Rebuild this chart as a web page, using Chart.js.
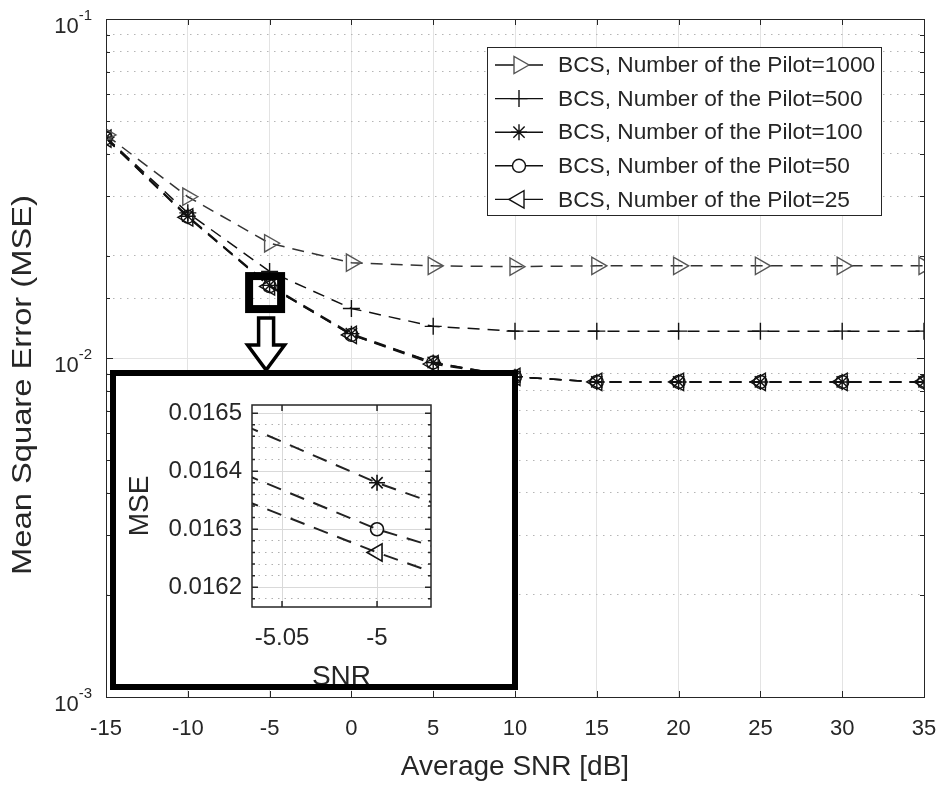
<!DOCTYPE html>
<html>
<head>
<meta charset="utf-8">
<script src="https://cdn.jsdelivr.net/npm/chart.js@4.4.1/dist/chart.umd.min.js"></script>
<style>
  body { margin: 0; background: #fff; }
  #wrap { position: relative; width: 941px; height: 785px; }
  canvas { display: block; }
  #inset { position: absolute; left: 110px; top: 370px; width: 396px; height: 308px;
           border: 6px solid #000; overflow: hidden; background: #fff; }
</style>
</head>
<body>
<div id="wrap">
  <canvas id="mainChart" width="941" height="785"></canvas>
  <div id="inset"><canvas id="insetChart" width="396" height="330"></canvas></div>
</div>
<script>
// main plot data
const snr = [-15, -10, -5, 0, 5, 10, 15, 20, 25, 30, 35];
const mse1000 = [0.0455, 0.0299, 0.0218, 0.0191, 0.0187, 0.0186, 0.0187, 0.0187, 0.0187, 0.0187, 0.0187];
const mse500  = [0.0448, 0.0268, 0.0180, 0.0140, 0.0124, 0.0120, 0.0120, 0.0120, 0.0120, 0.0120, 0.0120];
const mse100  = [0.0447, 0.0262, 0.01638, 0.0118, 0.0097, 0.0088, 0.0085, 0.0085, 0.0085, 0.0085, 0.0085];
const mse50   = [0.0445, 0.0261, 0.01630, 0.0117, 0.0097, 0.0088, 0.0085, 0.0085, 0.0085, 0.0085, 0.0085];
const mse25   = [0.0444, 0.0260, 0.01626, 0.0117, 0.0096, 0.0088, 0.0085, 0.0085, 0.0085, 0.0085, 0.0085];
const seriesNames = [
  'BCS, Number of the Pilot=1000',
  'BCS, Number of the Pilot=500',
  'BCS, Number of the Pilot=100',
  'BCS, Number of the Pilot=50',
  'BCS, Number of the Pilot=25'
];
const yDecades = [0.1, 0.01, 0.001];
const yExponents = ['-1', '-2', '-3'];
const yTitle = 'Mean Square Error (MSE)';

// zoomed inset data
const insetSnr = [-5.07, -5, -4.97];
const inset100 = [0.016479, 0.01638, 0.016345];
const inset50  = [0.016395, 0.01630, 0.01627];
const inset25  = [0.01635, 0.01626, 0.016225];
const insetXRange = [-5.0658, -4.9716];
const insetYRange = [0.016166, 0.016514];
const insetXTicks = [-5.05, -5];
const insetYTicks = [0.01618, 0.0162, 0.01622, 0.01624, 0.01626, 0.01628, 0.0163, 0.01632,
                     0.01634, 0.01636, 0.01638, 0.0164, 0.01642, 0.01644, 0.01646, 0.01648, 0.0165];

const FONT = "'Liberation Sans', Arial, sans-serif";
const INK = '#262626';

const markers = [
  {style: 'triangle', rot: 90, r: 10, color: '#555'},
  {style: 'cross', rot: 0, r: 8.5, color: '#111'},
  {style: 'star', rot: 0, r: 8, color: '#111'},
  {style: 'circle', rot: 0, r: 6.5, color: '#111'},
  {style: 'triangle', rot: -90, r: 10, color: '#111'}
];

function isDecade(v) {
  const l = Math.log10(v);
  return Math.abs(l - Math.round(l)) < 1e-6;
}

function makeSet(i, vals) {
  const m = markers[i];
  return {
    label: seriesNames[i],
    data: snr.map((x, k) => ({x: x, y: vals[k]})),
    borderColor: i === 0 ? '#333' : '#111',
    borderWidth: 1.5,
    borderDash: [12, 8],
    pointStyle: m.style,
    pointRotation: m.rot,
    pointRadius: m.r,
    pointBorderColor: m.color,
    pointBackgroundColor: 'rgba(255,255,255,0)',
    pointBorderWidth: 1.4,
    fill: false,
    tension: 0
  };
}

function drawMarker(ctx, m, x, y, fill) {
  ctx.save();
  ctx.setLineDash([]);
  ctx.strokeStyle = m.color;
  ctx.fillStyle = fill;
  ctx.lineWidth = 1.4;
  Chart.helpers.drawPoint(ctx, {pointStyle: m.style, rotation: m.rot, radius: m.r, borderWidth: 1.4}, x, y);
  ctx.restore();
}

function noEdgePadding(s) {
  s.paddingLeft = 0; s.paddingRight = 0; s.paddingTop = 0; s.paddingBottom = 0;
}

const mainDecor = {
  id: 'mainDecor',
  afterDraw(chart) {
    const ctx = chart.ctx, a = chart.chartArea;
    const xs = chart.scales.x, ys = chart.scales.y;
    ctx.save();
    // axes box
    ctx.strokeStyle = INK;
    ctx.lineWidth = 1;
    ctx.strokeRect(Math.round(a.left) + 0.5, Math.round(a.top) + 0.5, Math.round(a.right - a.left), Math.round(a.bottom - a.top));
    // inward ticks
    ctx.beginPath();
    xs.ticks.forEach(t => {
      const px = Math.round(xs.getPixelForValue(t.value)) + 0.5;
      ctx.moveTo(px, a.bottom); ctx.lineTo(px, a.bottom - 6);
      ctx.moveTo(px, a.top); ctx.lineTo(px, a.top + 6);
    });
    ys.ticks.forEach(t => {
      const py = Math.round(ys.getPixelForValue(t.value)) + 0.5;
      const len = isDecade(t.value) ? 7 : 4;
      ctx.moveTo(a.left, py); ctx.lineTo(a.left + len, py);
      ctx.moveTo(a.right, py); ctx.lineTo(a.right - len, py);
    });
    ctx.stroke();
    // y labels 10^n
    ctx.fillStyle = INK;
    ctx.textBaseline = 'middle';
    yDecades.forEach((v, i) => {
      const py = ys.getPixelForValue(v);
      ctx.font = '15px ' + FONT;
      const supW = ctx.measureText(yExponents[i]).width;
      const x0 = 92 - supW;
      ctx.textAlign = 'left';
      ctx.fillText(yExponents[i], x0, py - 3);
      ctx.font = '22px ' + FONT;
      ctx.textAlign = 'right';
      ctx.fillText('10', x0, py + 8);
    });
    // y axis title (stretched along its length like the source figure)
    ctx.save();
    ctx.translate(23, 385);
    ctx.rotate(-Math.PI / 2);
    ctx.font = '28px ' + FONT;
    const tw = ctx.measureText(yTitle).width;
    ctx.scale(380 / tw, 1);
    ctx.textAlign = 'center';
    ctx.textBaseline = 'middle';
    ctx.fillStyle = INK;
    ctx.fillText(yTitle, 0, 0);
    ctx.restore();
    // legend
    const lg = {x: 487, y: 47, w: 394, h: 168};
    ctx.fillStyle = '#fff';
    ctx.fillRect(lg.x, lg.y, lg.w, lg.h);
    ctx.strokeStyle = INK;
    ctx.lineWidth = 1;
    ctx.strokeRect(lg.x + 0.5, lg.y + 0.5, lg.w, lg.h);
    seriesNames.forEach((name, i) => {
      const cy = 65 + i * 33.6;
      ctx.strokeStyle = '#111';
      ctx.lineWidth = 1.4;
      ctx.beginPath();
      ctx.moveTo(495, cy); ctx.lineTo(543, cy);
      ctx.stroke();
      drawMarker(ctx, markers[i], 519, cy, '#fff');
      ctx.fillStyle = INK;
      ctx.font = '22.7px ' + FONT;
      ctx.textAlign = 'left';
      ctx.textBaseline = 'middle';
      ctx.fillText(name, 558, cy + 1);
    });
    // zoom marker square and arrow
    const zx = xs.getPixelForValue(-5) - 4.5;
    const zy = ys.getPixelForValue(0.0163) + 6.5;
    ctx.strokeStyle = '#000';
    ctx.lineWidth = 8;
    ctx.strokeRect(zx - 16, zy - 16.5, 32, 33);
    const ax = zx + 1, top = zy + 25.5;
    ctx.beginPath();
    ctx.moveTo(ax - 7.5, top);
    ctx.lineTo(ax + 7.5, top);
    ctx.lineTo(ax + 7.5, top + 27);
    ctx.lineTo(ax + 18.5, top + 27);
    ctx.lineTo(ax, top + 52);
    ctx.lineTo(ax - 18.5, top + 27);
    ctx.lineTo(ax - 7.5, top + 27);
    ctx.closePath();
    ctx.fillStyle = '#fff';
    ctx.fill();
    ctx.lineWidth = 3.5;
    ctx.lineJoin = 'miter';
    ctx.stroke();
    ctx.restore();
  }
};

new Chart(document.getElementById('mainChart'), {
  type: 'line',
  data: {
    datasets: [
      makeSet(0, mse1000),
      makeSet(1, mse500),
      makeSet(2, mse100),
      makeSet(3, mse50),
      makeSet(4, mse25)
    ]
  },
  options: {
    responsive: false,
    animation: false,
    layout: {padding: {top: 19, right: 17, left: 0, bottom: 0}},
    plugins: {legend: {display: false}, tooltip: {enabled: false}},
    scales: {
      x: {
        type: 'linear', min: -15, max: 35,
        ticks: {stepSize: 5, padding: 19, autoSkip: false, maxRotation: 0,
                font: {family: FONT, size: 22}, color: INK},
        grid: {color: '#e3e3e3', lineWidth: 1, drawTicks: false},
        border: {display: false},
        title: {display: true, text: 'Average SNR [dB]', color: INK,
                font: {family: FONT, size: 28}, padding: {top: 0, bottom: 1}},
        afterFit: s => { s.height = 88; noEdgePadding(s); }
      },
      y: {
        type: 'logarithmic', min: 0.001, max: 0.1,
        ticks: {autoSkip: false, padding: 0, callback: () => ''},
        grid: {drawTicks: false, lineWidth: 1,
               color: c => (c.tick && isDecade(c.tick.value)) ? '#e3e3e3' : '#b5b5b5'},
        border: {display: false,
                 dash: c => (c.tick && !isDecade(c.tick.value)) ? [1.5, 5.5] : []},
        title: {display: false},
        afterFit: s => { s.width = 106; noEdgePadding(s); }
      }
    }
  },
  plugins: [mainDecor]
});

// ---- inset ----
function insetSet(i, vals) {
  const m = markers[i];
  return {
    label: seriesNames[i],
    data: insetSnr.map((x, k) => ({x: x, y: vals[k]})),
    borderColor: '#222',
    borderWidth: 2,
    borderDash: [15, 10],
    pointStyle: m.style,
    pointRotation: m.rot,
    pointRadius: c => (c.raw && c.raw.x === -5) ? m.r : 0,
    pointBorderColor: '#111',
    pointBackgroundColor: 'rgba(255,255,255,0)',
    pointBorderWidth: 1.6,
    fill: false,
    tension: 0
  };
}

const insetDecor = {
  id: 'insetDecor',
  afterDraw(chart) {
    const ctx = chart.ctx, a = chart.chartArea;
    const xs = chart.scales.x, ys = chart.scales.y;
    ctx.save();
    ctx.strokeStyle = INK;
    ctx.lineWidth = 1.5;
    ctx.strokeRect(a.left, a.top, a.right - a.left, a.bottom - a.top);
    ctx.beginPath();
    ys.ticks.forEach(t => {
      const py = ys.getPixelForValue(t.value);
      const len = t.label ? 6 : 3;
      ctx.moveTo(a.left, py); ctx.lineTo(a.left + len, py);
      ctx.moveTo(a.right, py); ctx.lineTo(a.right - len, py);
    });
    xs.ticks.forEach(t => {
      const px = xs.getPixelForValue(t.value);
      ctx.moveTo(px, a.bottom); ctx.lineTo(px, a.bottom - 6);
      ctx.moveTo(px, a.top); ctx.lineTo(px, a.top + 6);
    });
    ctx.stroke();
    ctx.restore();
  }
};

function isMajorInset(v) {
  return Math.abs(v * 1e4 - Math.round(v * 1e4)) < 1e-4;
}

new Chart(document.getElementById('insetChart'), {
  type: 'line',
  data: {
    datasets: [
      insetSet(2, inset100),
      insetSet(3, inset50),
      insetSet(4, inset25)
    ]
  },
  options: {
    responsive: false,
    animation: false,
    layout: {padding: {top: 29, right: 81, left: 0, bottom: 0}},
    plugins: {legend: {display: false}, tooltip: {enabled: false}},
    scales: {
      x: {
        type: 'linear', min: insetXRange[0], max: insetXRange[1],
        afterBuildTicks: s => { s.ticks = insetXTicks.map(v => ({value: v})); },
        ticks: {padding: 17, autoSkip: false, maxRotation: 0,
                font: {family: FONT, size: 24}, color: INK,
                callback: v => String(Math.round(v * 100) / 100)},
        grid: {color: '#d9d9d9', drawTicks: false},
        border: {display: false},
        title: {display: true, text: 'SNR', color: INK,
                font: {family: FONT, size: 28}, padding: {top: 0, bottom: 12}},
        afterFit: s => { s.height = 99; noEdgePadding(s); }
      },
      y: {
        type: 'linear', min: insetYRange[0], max: insetYRange[1],
        afterBuildTicks: s => { s.ticks = insetYTicks.map(v => ({value: v})); },
        ticks: {padding: 10, autoSkip: false,
                font: {family: FONT, size: 24}, color: INK,
                callback: v => isMajorInset(v) ? v.toFixed(4) : ''},
        grid: {drawTicks: false,
               color: c => (c.tick && isMajorInset(c.tick.value)) ? '#d9d9d9' : '#b0b0b0'},
        border: {display: false,
                 dash: c => (c.tick && !isMajorInset(c.tick.value)) ? [1.5, 5] : []},
        title: {display: true, text: 'MSE', color: INK,
                font: {family: FONT, size: 28}, padding: {top: 7, bottom: 0}},
        afterFit: s => { s.width = 136; noEdgePadding(s); }
      }
    }
  },
  plugins: [insetDecor]
});
</script>
</body>
</html>
